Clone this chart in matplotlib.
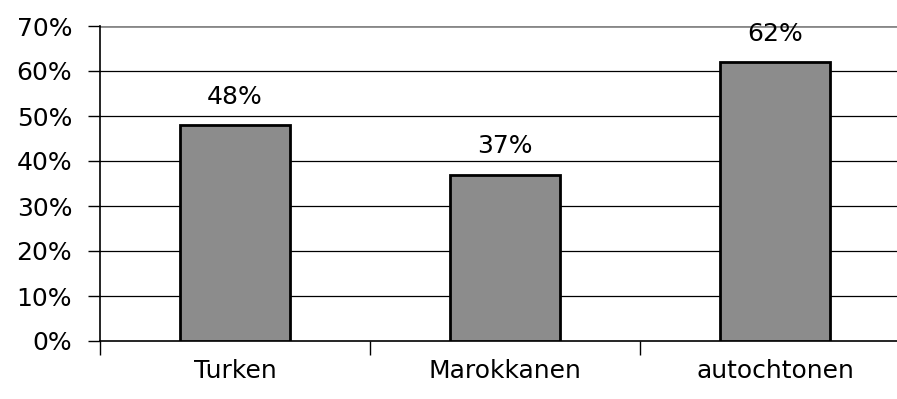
import matplotlib.pyplot as plt

groups = ["Turken", "Marokkanen", "autochtonen"]
percent = [48, 37, 62]
yticks = [0, 10, 20, 30, 40, 50, 60, 70]

plt.rcParams['font.family'] = ['DejaVu Sans']

fig = plt.figure(figsize=(8.97, 3.99), dpi=100)
# axis runs past the right edge of the picture, like the original
ax = fig.add_axes([100 / 897, 58 / 399, 810 / 897, 315 / 399])

x = list(range(len(groups)))
bars = ax.bar(x, percent, width=0.41, color="#8c8c8c", edgecolor="black",
              linewidth=2, zorder=3)

for xi, v in zip(x, percent):
    ax.text(xi, v + 6.3, f"{v}%", ha="center", va="center", fontsize=18)

ax.set_xlim(-0.5, 2.5)
ax.set_ylim(0, 70)
ax.set_yticks(yticks)
ax.set_yticklabels([f"{t}%" for t in yticks], fontsize=18)
for t in yticks[1:-1]:
    ax.axhline(t, color="black", linewidth=0.9, zorder=1)
ax.axhline(70, color="#888888", linewidth=2, zorder=1)

ax.set_xticks([-0.5, 0.5, 1.5])
ax.set_xticklabels([])
ax.tick_params(axis="x", length=10, width=1, direction="out")
ax.tick_params(axis="y", length=9, width=1, direction="out", pad=11)
for xi, g in zip(x, groups):
    ax.text(xi, -6.6, g, ha="center", va="center", fontsize=18,
            transform=ax.transData, clip_on=False)

for s in ["top", "right"]:
    ax.spines[s].set_visible(False)
ax.spines["left"].set_linewidth(1.2)
ax.spines["bottom"].set_linewidth(1.2)

fig.savefig("out.png", dpi=100)
